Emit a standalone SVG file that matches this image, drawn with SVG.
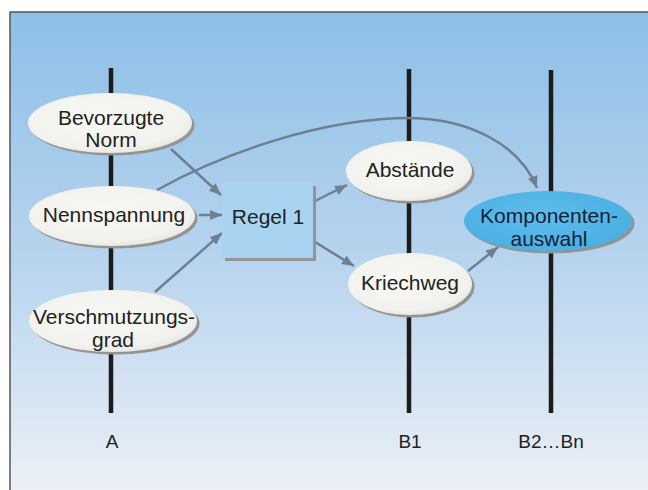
<svg xmlns="http://www.w3.org/2000/svg" width="648" height="490" viewBox="0 0 648 490">
<defs>
<linearGradient id="bg" x1="0" y1="0" x2="0" y2="1">
<stop offset="0" stop-color="#8dbfe7"/>
<stop offset="0.5" stop-color="#b8d4ee"/>
<stop offset="1" stop-color="#f0f3f7"/>
</linearGradient>
<radialGradient id="ell" cx="0.45" cy="0.4" r="0.65">
<stop offset="0" stop-color="#f8f8f5"/>
<stop offset="0.8" stop-color="#f1f1ed"/>
<stop offset="1" stop-color="#e4e4df"/>
</radialGradient>
<radialGradient id="ellb" cx="0.45" cy="0.4" r="0.65">
<stop offset="0" stop-color="#5dbdec"/>
<stop offset="1" stop-color="#4aaee2"/>
</radialGradient>
<marker id="ah" viewBox="0 0 12 10" refX="12" refY="5" markerWidth="12" markerHeight="10" markerUnits="userSpaceOnUse" orient="auto">
<path d="M0,0 L12,5 L0,10 z" fill="#6c7f93"/>
</marker>
<style>
.t{font-family:"Liberation Sans",Arial,sans-serif;font-size:21px;fill:#222;text-anchor:middle}
.lb{font-family:"Liberation Sans",Arial,sans-serif;font-size:19px;fill:#222;text-anchor:middle}
.ax{stroke:#1c1c1c;stroke-width:4.5}
.sh{fill:#949492}
.e{fill:url(#ell)}
.c{fill:none;stroke:#6c7f93;stroke-width:2.5;marker-end:url(#ah)}
</style>
</defs>
<rect x="0" y="0" width="648" height="490" fill="#ffffff"/>
<rect x="10" y="12" width="660" height="500" fill="url(#bg)" stroke="#555" stroke-width="1.5"/>

<g id="axes">
<line class="ax" x1="111" y1="68" x2="111" y2="413"/>
<line class="ax" x1="409" y1="69" x2="409" y2="413"/>
<line class="ax" x1="551" y1="70" x2="551" y2="413"/>
<text class="lb" x="112" y="448">A</text>
<text class="lb" x="410" y="448">B1</text>
<text class="lb" x="551" y="448">B2…Bn</text>
</g>

<g id="connectors">
<line class="c" x1="171" y1="149" x2="221" y2="195"/>
<line class="c" x1="199" y1="215" x2="222" y2="215"/>
<line class="c" x1="155" y1="292" x2="222" y2="233"/>
<line class="c" x1="315" y1="201" x2="347" y2="185"/>
<line class="c" x1="315" y1="242" x2="354" y2="266"/>
<line class="c" x1="468" y1="271" x2="498" y2="247"/>
<path class="c" d="M157,190 C220,155 320,118 410,118 C470,119 520,145 537,188"/>
</g>

<g id="bevorzugte">
<ellipse class="sh" cx="112.5" cy="125.5" rx="82" ry="30"/>
<ellipse class="e" cx="110" cy="123" rx="82" ry="30"/>
<text class="t" x="111" y="125">Bevorzugte</text>
<text class="t" x="111" y="147">Norm</text>
</g>

<g id="nennspannung">
<ellipse class="sh" cx="114.5" cy="218.5" rx="83" ry="30"/>
<ellipse class="e" cx="112" cy="216" rx="83" ry="30"/>
<text class="t" x="114" y="222">Nennspannung</text>
</g>

<g id="verschmutzung">
<ellipse class="sh" cx="115.5" cy="323.5" rx="84" ry="31"/>
<ellipse class="e" cx="113" cy="321" rx="84" ry="31"/>
<text class="t" x="114" y="324">Verschmutzungs-</text>
<text class="t" x="113" y="347">grad</text>
</g>

<g id="regel">
<rect x="225" y="186" width="91" height="75" fill="#949492"/>
<rect x="222" y="183" width="91" height="75" fill="#a8d4f2"/>
<text class="t" x="268" y="224">Regel 1</text>
</g>

<g id="abstaende">
<ellipse class="sh" cx="411.5" cy="173.5" rx="63" ry="30"/>
<ellipse class="e" cx="409" cy="171" rx="63" ry="30"/>
<text class="t" x="410" y="177">Abstände</text>
</g>

<g id="kriechweg">
<ellipse class="sh" cx="412.5" cy="286.5" rx="62" ry="31"/>
<ellipse class="e" cx="410" cy="284" rx="62" ry="31"/>
<text class="t" x="410" y="290">Kriechweg</text>
</g>

<g id="komponenten">
<ellipse class="sh" cx="550.5" cy="223.5" rx="84" ry="30"/>
<ellipse cx="548" cy="221" rx="84" ry="30" fill="url(#ellb)"/>
<text class="t" x="549" y="223" style="fill:#142236">Komponenten-</text>
<text class="t" x="549" y="246" style="fill:#142236">auswahl</text>
</g>
</svg>
